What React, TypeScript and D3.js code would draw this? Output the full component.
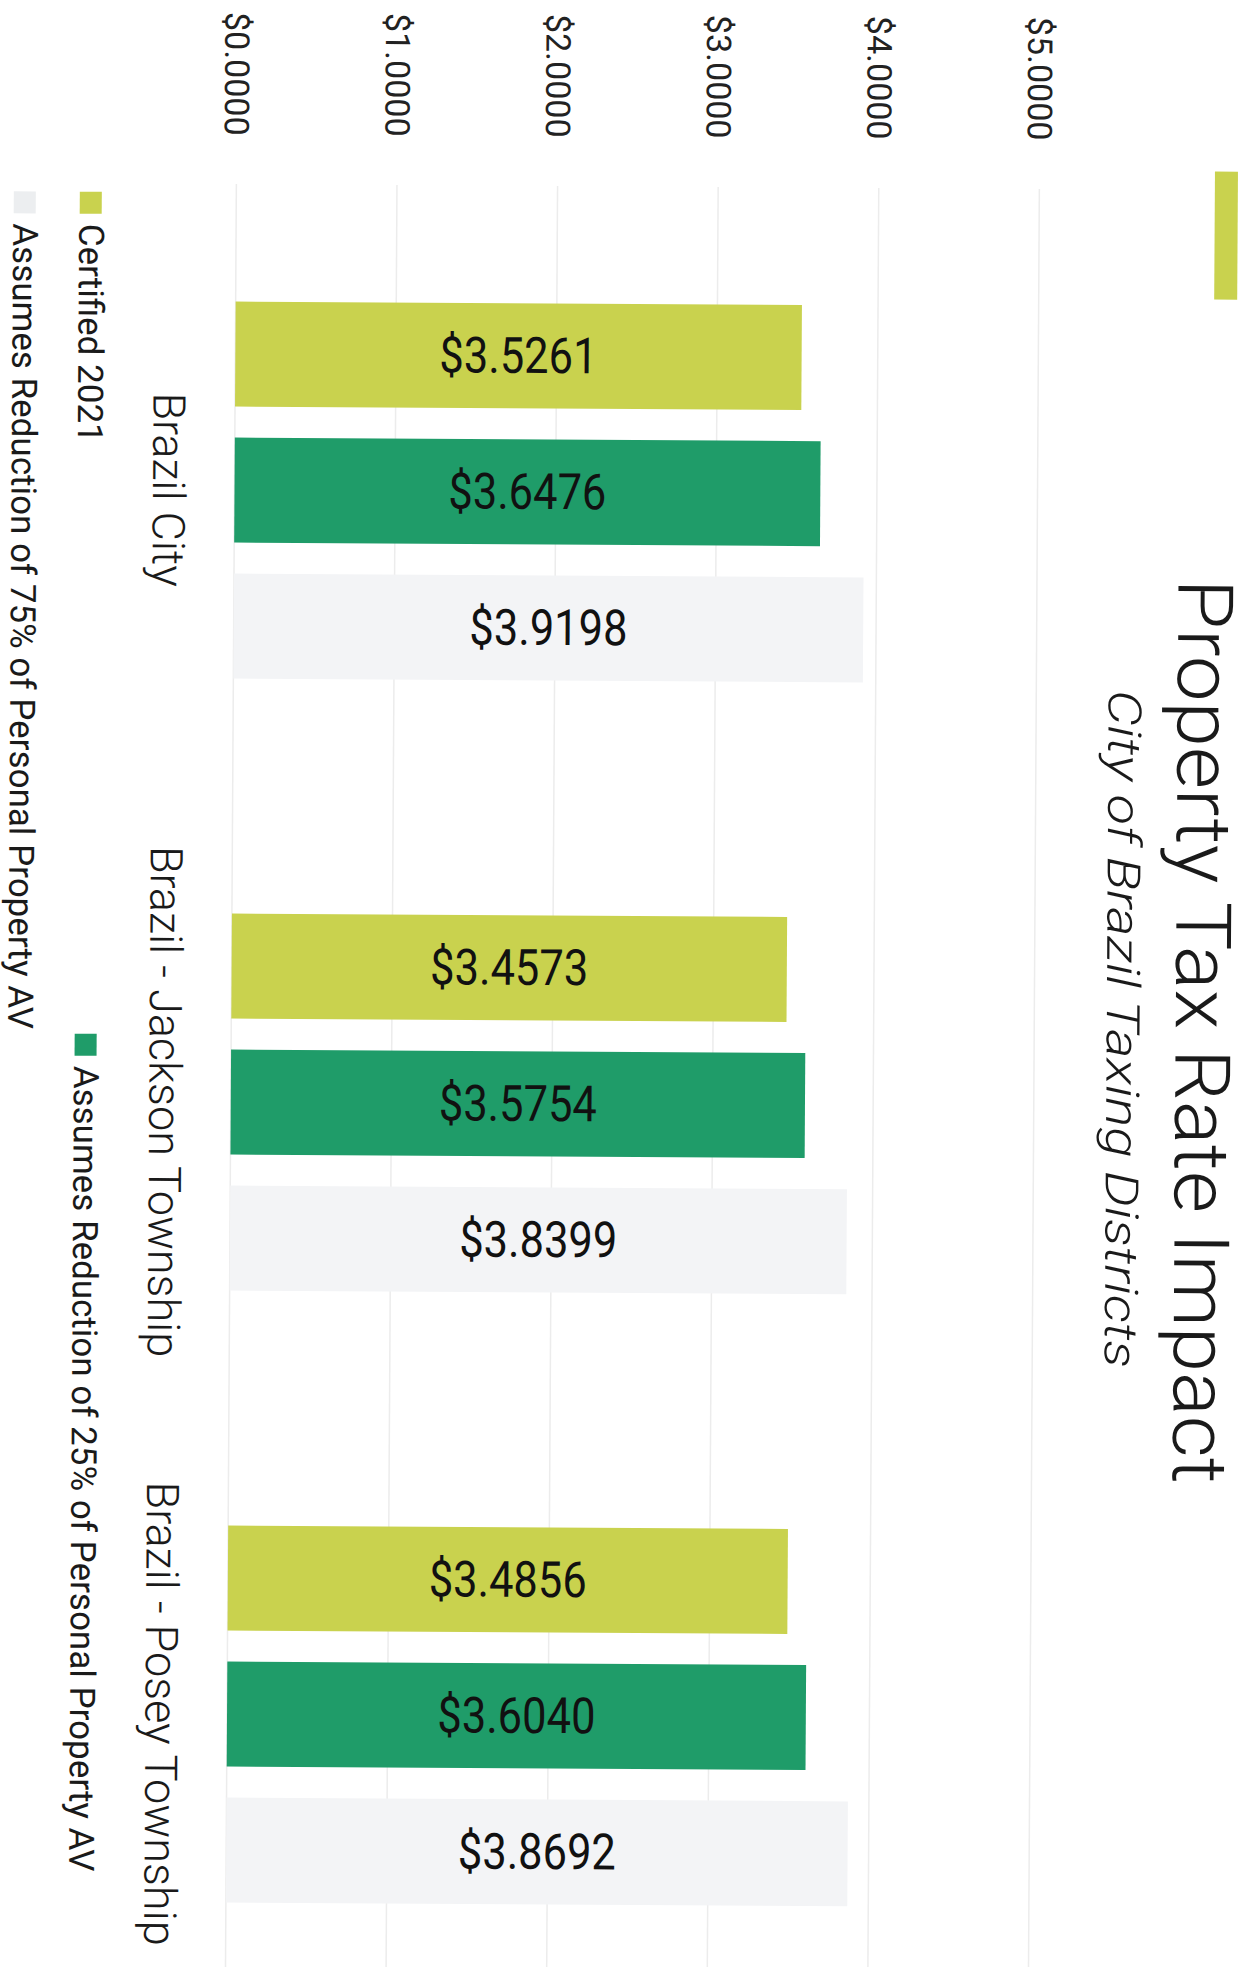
import React from "react";
import * as d3 from "d3";

const categories = ["Brazil City", "Brazil - Jackson Township", "Brazil - Posey Township"];
const seriesNames = [
  "Certified 2021",
  "Assumes Reduction of 25% of Personal Property AV",
  "Assumes Reduction of 75% of Personal Property AV",
];
const certified2021 = [3.5261, 3.4573, 3.4856];
const reduction25 = [3.6476, 3.5754, 3.604];
const reduction75 = [3.9198, 3.8399, 3.8692];
const tickValues = [0, 1, 2, 3, 4, 5];
const seriesColors = ["#c9d24e", "#1f9c69", "#f3f4f6"];
const titleText = "Property Tax Rate Impact";
const subtitleText = "City of Brazil Taxing Districts";

const W = 1251;
const H = 1967;

export default function App() {
  const series = [certified2021, reduction25, reduction75];
  // frame coordinates: chart drawn as a column chart, then rotated 90deg clockwise
  const y = d3.scaleLinear().domain([0, 5]).range([1019.5, 216.5]);
  const x0 = d3.scaleBand<string>().domain(categories).range([186.5, 2022.5]).padding(0);
  const x1 = d3
    .scaleBand<number>()
    .domain([0, 1, 2])
    .range([117.5, 494.5])
    .paddingInner(0.228)
    .paddingOuter(0);

  const legendItems = [
    { s: 0, x: 195, row: 0 },
    { s: 1, x: 1037, row: 0 },
    { s: 2, x: 195, row: 1 },
  ];
  const legendRowY = [1165, 1231];

  return (
    <svg
      width={W}
      height={H}
      style={{ position: "absolute", left: 0, top: 0, background: "#fff" }}
    >
      <rect x={0} y={0} width={W} height={H} fill="#ffffff" />
      <g transform={`rotate(0.35, ${W / 2}, ${H / 2}) translate(${W},0) rotate(90)`}>
        {/* decorative header bar */}
        <rect x={168} y={18} width={128} height={23} fill={seriesColors[0]} />
        {/* title */}
        <text
          x={1028}
          y={75}
          textAnchor="middle"
          fontFamily="Roboto, 'Open Sans', sans-serif"
          fontWeight={300}
          fontSize={77}
          textLength={905}
          lengthAdjust="spacingAndGlyphs"
          fill="#1a1a1a"
        >
          {titleText}
        </text>
        <text
          x={1026}
          y={144}
          textAnchor="middle"
          fontFamily="Roboto, sans-serif"
          fontStyle="italic"
          fontWeight={300}
          fontSize={46}
          textLength={678}
          lengthAdjust="spacingAndGlyphs"
          fill="#1a1a1a"
        >
          {subtitleText}
        </text>

        {/* gridlines */}
        {tickValues.map((t) => (
          <line
            key={"g" + t}
            x1={186.5}
            x2={2022.5}
            y1={y(t)}
            y2={y(t)}
            stroke="#ececec"
            strokeWidth={1.5}
          />
        ))}
        {/* tick labels */}
        {tickValues.map((t) => (
          <text
            key={"t" + t}
            x={138}
            y={y(t)}
            textAnchor="end"
            dominantBaseline="central"
            fontFamily="Roboto, sans-serif"
            fontSize={34}
            fill="#222"
          >
            {"$" + t.toFixed(4)}
          </text>
        ))}

        {/* bars */}
        {categories.map((c, ci) => (
          <g key={c} transform={`translate(${x0(c)},0)`}>
            {series.map((vals, si) => {
              const v = vals[ci];
              const bx = x1(si)!;
              const bw = x1.bandwidth();
              const top = y(v);
              const base = y(0);
              const cx = bx + bw / 2;
              const cy = (top + base) / 2;
              return (
                <g key={si}>
                  <rect x={bx} y={top} width={bw} height={base - top} fill={seriesColors[si]} />
                  <text
                    x={cx}
                    y={cy}
                    transform={`rotate(-90, ${cx}, ${cy})`}
                    textAnchor="middle"
                    dominantBaseline="central"
                    fontFamily="Roboto, sans-serif"
                    fontWeight={400}
                    fontSize={50}
                    textLength={158}
                    lengthAdjust="spacingAndGlyphs"
                    fill="#111"
                  >
                    {"$" + v.toFixed(4)}
                  </text>
                </g>
              );
            })}
            <text
              x={x0.bandwidth() / 2}
              y={1101}
              textAnchor="middle"
              fontFamily="Roboto, sans-serif"
              fontWeight={300}
              fontSize={45}
              fill="#1a1a1a"
            >
              {c}
            </text>
          </g>
        ))}

        {/* legend */}
        {legendItems.map((it) => {
          const cy = legendRowY[it.row];
          return (
            <g key={it.s}>
              <rect
                x={it.x}
                y={cy - 11}
                width={22}
                height={22}
                fill={it.s === 2 ? "#eceef0" : seriesColors[it.s]}
              />
              <text
                x={it.x + 32}
                y={cy}
                dominantBaseline="central"
                fontFamily="Roboto, sans-serif"
                fontSize={35}
                fill="#1a1a1a"
              >
                {seriesNames[it.s]}
              </text>
            </g>
          );
        })}
      </g>
    </svg>
  );
}
